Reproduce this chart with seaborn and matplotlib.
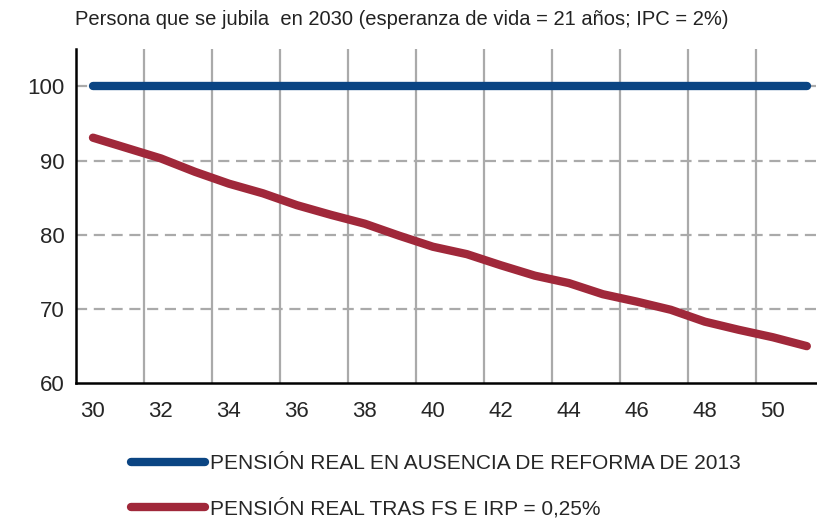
import numpy as np
import pandas as pd
import seaborn as sns
import matplotlib.pyplot as plt

sns.set_style("white")
plt.rcParams['font.family'] = ['Liberation Sans', 'DejaVu Sans']

# datos
edad = list(range(30, 52))
sin_reforma = [100] * 22
tras_fs_irp = [93.1, 91.7, 90.3, 88.5, 86.9, 85.6, 84.0, 82.7, 81.5, 79.9, 78.4,
               77.4, 75.9, 74.5, 73.5, 72.0, 71.0, 69.9, 68.3, 67.2, 66.2, 65.0]
etiquetas = ['PENSIÓN REAL EN AUSENCIA DE REFORMA DE 2013',
             'PENSIÓN REAL TRAS FS E IRP = 0,25%']
titulo = 'Persona que se jubila  en 2030 (esperanza de vida = 21 años; IPC = 2%)'

azul = '#0b4583'
rojo = '#a0283a'

df = pd.DataFrame({'edad': edad, 'sin': sin_reforma, 'tras': tras_fs_irp})

fig = plt.figure(figsize=(8.17, 5.2), dpi=100)
ax = fig.add_axes([0.093, 0.263, 0.907, 0.642])

sns.lineplot(data=df, x='edad', y='sin', color=azul, lw=6, label=etiquetas[0],
             solid_capstyle='round', ax=ax, zorder=5)
sns.lineplot(data=df, x='edad', y='tras', color=rojo, lw=6, label=etiquetas[1],
             solid_capstyle='round', ax=ax, zorder=5)

ax.set_xlim(29.5, 51.3)
ax.set_ylim(60, 105)

# etiquetas en los pares, rejilla vertical entre categorías
ax.set_xticks(np.arange(30, 51, 2))
ax.set_xticks(np.arange(31.5, 50, 2), minor=True)
ax.tick_params(axis='x', which='major', length=0, labelsize=16, pad=13)
ax.tick_params(axis='x', which='minor', direction='inout', length=8.5, width=1.6, color='black')
ax.set_yticks([60, 70, 80, 90, 100])
ax.tick_params(axis='y', direction='in', length=7, width=1.6, labelsize=16, pad=8)

ax.grid(False)
ax.grid(True, axis='x', which='minor', color='#aaaaaa', lw=1.6, ls='-')
for v in [70, 80, 90, 100]:
    ax.axhline(v, color='#aaaaaa', lw=1.6, ls=(0, (5, 3)), zorder=1)

for s in ['top', 'right']:
    ax.spines[s].set_visible(False)
for s in ['left', 'bottom']:
    ax.spines[s].set_linewidth(1.8)
    ax.spines[s].set_color('black')

ax.set_xlabel('')
ax.set_ylabel('')

fig.text(0.092, 0.945, titulo, fontsize=14.5, ha='left', va='bottom', color='#222222')

ax.legend(loc='upper left', bbox_to_anchor=(0.16, 0.127), bbox_transform=fig.transFigure,
          frameon=False, fontsize=15, handlelength=3.55, handletextpad=0.25,
          labelspacing=1.2, borderaxespad=0, borderpad=0)

fig.savefig('out.png', dpi=100)
